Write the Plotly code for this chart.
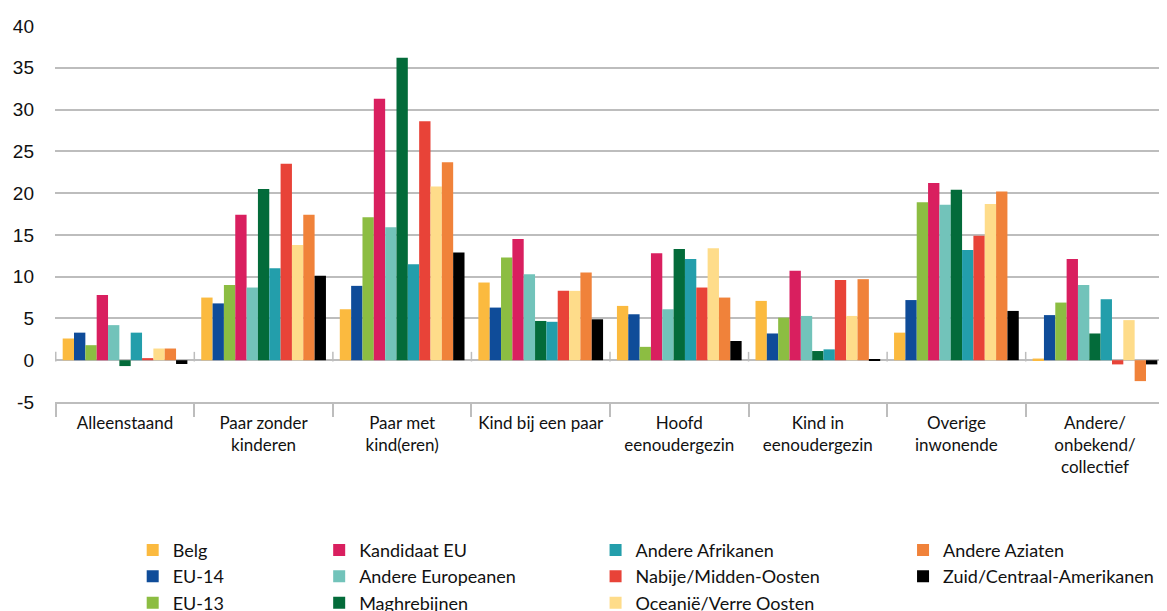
import plotly.graph_objects as go

categories = ["Alleenstaand", "Paar zonder<br>kinderen", "Paar met<br>kind(eren)", "Kind bij een paar",
              "Hoofd<br>eenoudergezin", "Kind in<br>eenoudergezin", "Overige<br>inwonende",
              "Andere/<br>onbekend/<br>collectief"]

belg = [2.6, 7.5, 6.1, 9.3, 6.5, 7.1, 3.3, 0.2]
eu14 = [3.3, 6.8, 8.9, 6.3, 5.5, 3.2, 7.2, 5.4]
eu13 = [1.8, 9.0, 17.1, 12.3, 1.6, 5.1, 18.9, 6.9]
kandidaat = [7.8, 17.4, 31.3, 14.5, 12.8, 10.7, 21.2, 12.1]
andere_eur = [4.2, 8.7, 15.9, 10.3, 6.1, 5.3, 18.6, 9.0]
maghreb = [-0.7, 20.5, 36.2, 4.7, 13.3, 1.1, 20.4, 3.2]
andere_afr = [3.3, 11.0, 11.5, 4.6, 12.1, 1.3, 13.2, 7.3]
nabije = [0.25, 23.5, 28.6, 8.3, 8.7, 9.6, 14.9, -0.5]
oceanie = [1.4, 13.8, 20.8, 8.3, 13.4, 5.3, 18.7, 4.8]
andere_azi = [1.4, 17.4, 23.7, 10.5, 7.5, 9.7, 20.2, -2.5]
zuid = [-0.45, 10.1, 12.9, 4.9, 2.3, 0.1, 5.9, -0.5]

y_tickvals = [-5, 0, 5, 10, 15, 20, 25, 30, 35, 40]
y_ticktext = ["-5", "0", "5", "10", "15", "20", "25", "30", "35", "40"]

series = [
    ("Belg", belg, "#FBBA3F", "legend", 1),
    ("EU-14", eu14, "#0F4C99", "legend", 2),
    ("EU-13", eu13, "#8CBD42", "legend", 3),
    ("Kandidaat EU", kandidaat, "#D91F5F", "legend2", 1),
    ("Andere Europeanen", andere_eur, "#72C3BA", "legend2", 2),
    ("Maghrebijnen", maghreb, "#036B3A", "legend2", 3),
    ("Andere Afrikanen", andere_afr, "#239EAB", "legend3", 1),
    ("Nabije/Midden-Oosten", nabije, "#E84338", "legend3", 2),
    ("Oceanië/Verre Oosten", oceanie, "#FEDC8A", "legend3", 3),
    ("Andere Aziaten", andere_azi, "#F0823A", "legend4", 1),
    ("Zuid/Centraal-Amerikanen", zuid, "#000000", "legend4", 2),
]

fig = go.Figure()
for name, vals, color, leg, rank in series:
    fig.add_trace(go.Bar(x=categories, y=vals, name=name, marker_color=color,
                         marker_line_width=0, legend=leg, legendrank=rank))

grid = "#BDBDBD"
# small tick marks at y=0 on category boundaries
for i in range(len(categories) + 1):
    fig.add_shape(type="line", xref="x", yref="y", x0=i - 0.5, x1=i - 0.5, y0=-0.15, y1=1.0,
                  line=dict(color=grid, width=1.5), layer="below")

legfont = dict(family="Lato, sans-serif", size=18, color="#111111")
legcommon = dict(orientation="v", yanchor="top", y=-0.345, xanchor="left", font=legfont,
                 tracegroupgap=0, bgcolor="rgba(0,0,0,0)", itemclick=False, maxheight=200)

fig.update_layout(
    width=1159, height=603,
    margin=dict(l=47, r=2, t=18, b=209, autoexpand=False),
    paper_bgcolor="white", plot_bgcolor="white",
    barmode="group", bargap=0.1, bargroupgap=0,
    legend=dict(x=0.07, **legcommon),
    legend2=dict(x=0.238, **legcommon),
    legend3=dict(x=0.487, **legcommon),
    legend4=dict(x=0.764, **legcommon),
    xaxis=dict(type="category", tickson="boundaries", ticks="outside", ticklen=13,
               tickcolor=grid, tickwidth=1.5, showline=True, linecolor=grid, linewidth=1.5,
               showgrid=False, automargin=False, ticklabelstandoff=5,
               tickfont=dict(family="Lato, sans-serif", size=17, color="#111111")),
    yaxis=dict(range=[-5, 40], tickvals=y_tickvals, ticktext=y_ticktext, showgrid=True,
               gridcolor=grid, gridwidth=1.5, zeroline=True, zerolinecolor=grid, zerolinewidth=1.5,
               ticklabelstandoff=20, automargin=False,
               tickfont=dict(family="Liberation Sans, Arial, sans-serif", size=19, color="#111111")),
)

fig.write_html("out.html")
